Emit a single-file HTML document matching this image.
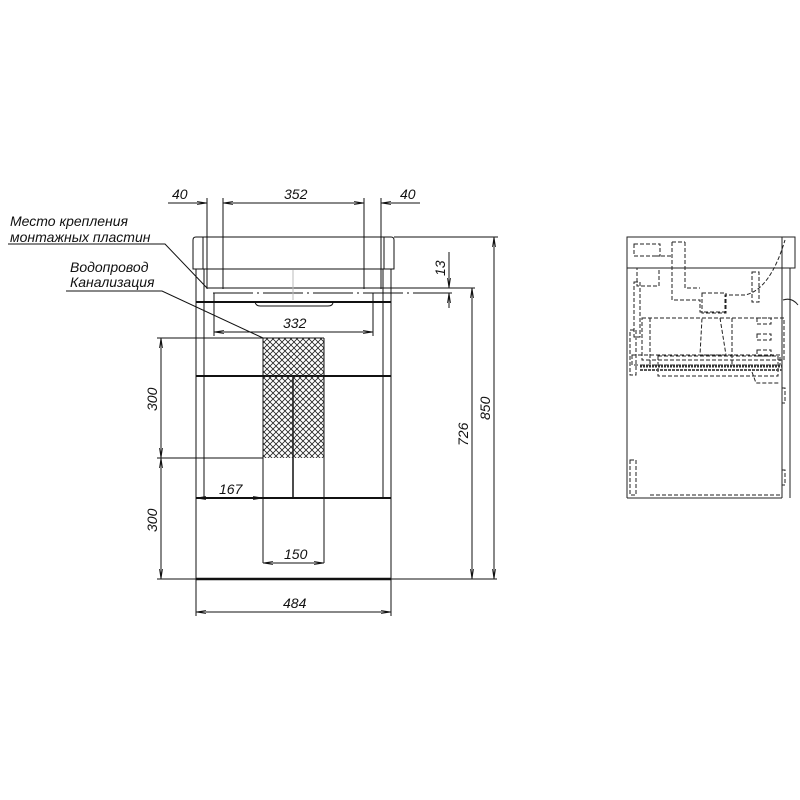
<!DOCTYPE html>
<html><head><meta charset="utf-8"><style>
html,body{margin:0;padding:0;background:#fff;}
svg{display:block}
text{font-family:"Liberation Sans","DejaVu Sans",sans-serif;font-style:italic;font-size:14px;fill:#111}
</style></head><body>
<svg width="800" height="800" viewBox="0 0 800 800" xmlns="http://www.w3.org/2000/svg">
<defs>
<pattern id="hx" width="6" height="6" patternUnits="userSpaceOnUse">
<path d="M0 0L6 6M6 0L0 6" stroke="#222" stroke-width="0.8"/>
</pattern>
<marker id="a" markerWidth="10" markerHeight="6" refX="10" refY="3" orient="auto-start-reverse" markerUnits="userSpaceOnUse">
<path d="M0 1.5L10 3L0 4.5" fill="none" stroke="#111" stroke-width="0.8"/>
</marker>
</defs>
<g stroke="#111" stroke-width="1" fill="none">
<line x1="168" y1="203" x2="207" y2="203" marker-end="url(#a)"/>
<line x1="223" y1="203" x2="364" y2="203" marker-start="url(#a)" marker-end="url(#a)"/>
<line x1="381" y1="203" x2="420" y2="203" marker-start="url(#a)"/>
<line x1="207" y1="198" x2="207" y2="289"/>
<line x1="223" y1="198" x2="223" y2="289"/>
<line x1="364" y1="198" x2="364" y2="289"/>
<line x1="381" y1="198" x2="381" y2="289"/>
<path d="M196 237 H391 Q394 237 394 240 V269 H193 V240 Q193 237 196 237Z"/>
<line x1="203" y1="237" x2="203" y2="269"/>
<line x1="384" y1="237" x2="384" y2="269"/>
<rect x="196" y="269" width="195" height="310"/>
<line x1="204" y1="269" x2="204" y2="498"/>
<line x1="383" y1="269" x2="383" y2="498"/>
<line x1="207" y1="288" x2="475" y2="288"/>
<line x1="213" y1="293" x2="452" y2="293" stroke-dasharray="40 4 2 4"/>
<line x1="293" y1="270" x2="293" y2="300" stroke="#bbb"/>
<line x1="196" y1="302" x2="391" y2="302" stroke-width="2"/>
<path d="M255 302 Q256 306 260 306 H328 Q333 306 333 302"/>
<line x1="196" y1="376" x2="391" y2="376" stroke-width="2"/>
<line x1="196" y1="498" x2="391" y2="498" stroke-width="2"/>
<line x1="293" y1="376" x2="293" y2="498" stroke-width="1.5"/>
<line x1="196" y1="579" x2="391" y2="579" stroke-width="2.5"/>
<rect x="263" y="338" width="61" height="120" fill="url(#hx)" stroke="none"/>
<line x1="263" y1="338" x2="263" y2="563"/>
<line x1="324" y1="338" x2="324" y2="563"/>
<line x1="263" y1="338" x2="324" y2="338"/>
<line x1="214" y1="332" x2="373" y2="332" marker-start="url(#a)" marker-end="url(#a)"/>
<line x1="214" y1="293" x2="214" y2="336"/>
<line x1="373" y1="293" x2="373" y2="336"/>
<line x1="157" y1="338" x2="263" y2="338"/>
<line x1="157" y1="458" x2="263" y2="458"/>
<line x1="157" y1="579" x2="497" y2="579"/>
<line x1="161" y1="338" x2="161" y2="458" marker-start="url(#a)" marker-end="url(#a)"/>
<line x1="161" y1="458" x2="161" y2="579" marker-start="url(#a)" marker-end="url(#a)"/>
<line x1="196" y1="498" x2="263" y2="498" marker-start="url(#a)" marker-end="url(#a)"/>
<line x1="263" y1="563" x2="324" y2="563" marker-start="url(#a)" marker-end="url(#a)"/>
<line x1="196" y1="579" x2="196" y2="616"/>
<line x1="391" y1="579" x2="391" y2="616"/>
<line x1="196" y1="612" x2="391" y2="612" marker-start="url(#a)" marker-end="url(#a)"/>
<line x1="394" y1="237" x2="498" y2="237"/>
<line x1="472" y1="288" x2="472" y2="579" marker-start="url(#a)" marker-end="url(#a)"/>
<line x1="494" y1="237" x2="494" y2="579" marker-start="url(#a)" marker-end="url(#a)"/>
<line x1="449" y1="252" x2="449" y2="288" marker-end="url(#a)"/>
<line x1="449" y1="293" x2="449" y2="308" marker-start="url(#a)"/>
<polyline points="8,244 165,244 207,288"/>
<polyline points="66,291 162,291 263,338"/>
</g>
<text x="10" y="226">Место крепления</text>
<text x="10" y="242">монтажных пластин</text>
<text x="70" y="272">Водопровод</text>
<text x="70" y="287">Канализация</text>
<text x="172" y="199">40</text>
<text x="284" y="199">352</text>
<text x="400" y="199">40</text>
<text x="283" y="328">332</text>
<text x="219" y="494">167</text>
<text x="284" y="559">150</text>
<text x="283" y="608">484</text>
<text transform="translate(157 411) rotate(-90)">300</text>
<text transform="translate(157 532) rotate(-90)">300</text>
<text transform="translate(468 446) rotate(-90)">726</text>
<text transform="translate(490 420) rotate(-90)">850</text>
<text transform="translate(445 276) rotate(-90)">13</text>
<g stroke="#222" stroke-width="1" fill="none">
<rect x="627" y="237" width="168" height="31"/>
<line x1="782" y1="237" x2="782" y2="268"/>
<line x1="627" y1="268" x2="627" y2="498"/>
<line x1="627" y1="498" x2="782" y2="498"/>
<line x1="782" y1="268" x2="782" y2="498"/>
<line x1="790" y1="268" x2="790" y2="498"/>
<g stroke-dasharray="4 2">
<rect x="634" y="244" width="26" height="12"/>
<rect x="637" y="268" width="22" height="18"/>
<path d="M672 242 V300 H700 V312 H725 V295 H745 Q770 290 785 240"/>
<path d="M685 242 V288 H700"/>
<path d="M655 256 H672 M672 242 H685"/>
<rect x="702" y="293" width="24" height="20"/>
<path d="M702 318 H720 L726 355 H700 Z"/>
<rect x="642" y="318" width="142" height="42"/>
<rect x="632" y="355" width="148" height="10"/>
<rect x="658" y="356" width="120" height="20"/>
<rect x="630" y="330" width="6" height="45"/>
<rect x="630" y="460" width="6" height="35"/>
<rect x="634" y="282" width="6" height="55"/>
<rect x="752" y="272" width="7" height="30"/>
<rect x="757" y="318" width="14" height="6"/>
<rect x="757" y="334" width="14" height="6"/>
<rect x="757" y="350" width="14" height="6"/>
<path d="M752 372 L756 383 H780"/>
<rect x="782" y="388" width="3" height="15"/>
<rect x="782" y="470" width="3" height="15"/>
<line x1="650" y1="495" x2="782" y2="495"/>
<line x1="650" y1="318" x2="650" y2="365"/>
<line x1="732" y1="318" x2="732" y2="365"/>
</g>
<line x1="640" y1="366" x2="782" y2="366" stroke-width="3" stroke="#333" stroke-dasharray="2 1"/>
<line x1="640" y1="370" x2="782" y2="370" stroke-width="2" stroke="#555" stroke-dasharray="3 1"/>
<path d="M783 300 Q792 297 798 305"/>
</g>
</svg>
</body></html>
